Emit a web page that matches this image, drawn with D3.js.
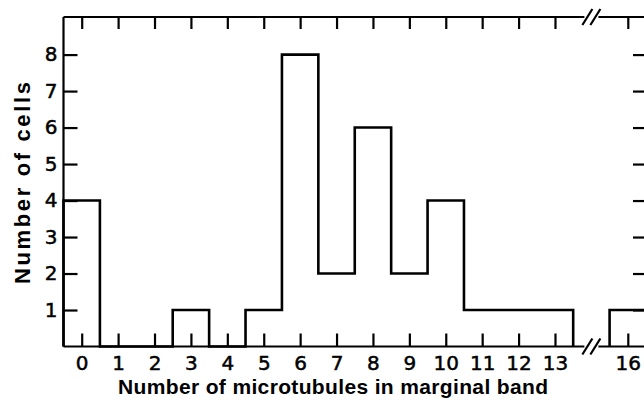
<!DOCTYPE html>
<html>
<head>
<meta charset="utf-8">
<script src="https://cdn.jsdelivr.net/npm/d3@7"></script>
<style>
  body { margin: 0; background: #fff; }
  svg { display: block; }
  .tick text { font-family: "DejaVu Sans", sans-serif; font-size: 20px; fill: #000; stroke: #000; stroke-width: 0.5px; }
  .title { font-family: "Liberation Sans", Arial, sans-serif; font-weight: bold; font-size: 21px; fill: #000; }
</style>
</head>
<body>
<div id="chart"></div>
<script>
// microtubule counts per cell (14 and 15 are skipped by the axis break)
const microtubules = [0, 1, 2, 3, 4, 5, 6, 7, 8, 9, 10, 11, 12, 13, 16]
const cellCounts   = [4, 0, 0, 1, 0, 1, 8, 2, 6, 2, 4, 1, 1, 1, 1]
const xTickLabels  = ["0", "1", "2", "3", "4", "5", "6", "7", "8", "9", "10", "11", "12", "13", "16"]
const yTickValues  = [1, 2, 3, 4, 5, 6, 7, 8]

const width = 644, height = 400
const margin = {top: 17, left: 63.5, bottom: 53.5}
const plotRight = 646   // right frame sits just outside the picture

const svg = d3.select('#chart')
  .append('svg')
  .attr('width', width)
  .attr('height', height)

// position on the axis: the break squeezes 14 and 15 into one slot
const slot = v => v <= 13 ? v : v - 1

const x = d3.scaleLinear()
  .domain([-0.5, 15.5])
  .range([margin.left, plotRight])

const y = d3.scaleLinear()
  .domain([0, 9.03])
  .range([height - margin.bottom, margin.top])

const xPos = microtubules.map(slot)
const breakAt = 14   // slot where the // marks go

// axes (ticks pointing inward, domain lines drawn by hand below)
svg.append('g')
  .attr('transform', `translate(0, ${y(0)})`)
  .call(d3.axisBottom(x).tickValues(xPos).tickSizeInner(-13).tickSizeOuter(0).tickPadding(9)
    .tickFormat((d, i) => xTickLabels[i]))
svg.append('g')
  .attr('transform', `translate(0, ${y.range()[1]})`)
  .call(d3.axisTop(x).tickValues(xPos).tickSizeInner(-12).tickSizeOuter(0).tickFormat(''))
svg.append('g')
  .attr('transform', `translate(${margin.left}, 0)`)
  .call(d3.axisLeft(y).tickValues(yTickValues).tickSizeInner(-14).tickSizeOuter(0).tickPadding(6)
    .tickFormat(d3.format('d')))
svg.append('g')
  .attr('transform', `translate(${plotRight}, 0)`)
  .call(d3.axisRight(y).tickValues(yTickValues).tickSizeInner(-13).tickSizeOuter(0).tickFormat(''))

svg.selectAll('.domain').remove()
svg.selectAll('.tick line').attr('stroke', '#000').attr('stroke-width', 2.2)

// frame with gaps at the break
const frame = svg.append('g').attr('stroke', '#000').attr('stroke-width', 2.2).attr('fill', 'none')
const gapL = x(breakAt) - 7, gapR = x(breakAt) + 7
;[y(0), y.range()[1]].forEach(yy => {
  frame.append('line').attr('x1', margin.left).attr('x2', gapL).attr('y1', yy).attr('y2', yy)
  frame.append('line').attr('x1', gapR).attr('x2', plotRight).attr('y1', yy).attr('y2', yy)
  // the two slashes
  ;[-4, 4].forEach(off => {
    frame.append('line')
      .attr('x1', x(breakAt) + off - 5).attr('y1', yy + 8)
      .attr('x2', x(breakAt) + off + 5).attr('y2', yy - 8)
  })
})
frame.append('line')
  .attr('x1', margin.left).attr('x2', margin.left)
  .attr('y1', y.range()[1]).attr('y2', y(0))

// histogram outline, one path per run of adjacent slots
const segments = []
xPos.forEach((p, i) => {
  const last = segments[segments.length - 1]
  if (last && xPos[last[last.length - 1]] === p - 1) last.push(i)
  else segments.push([i])
})

const line = d3.line().x(d => x(d[0])).y(d => y(d[1]))
segments.forEach(seg => {
  const pts = [[xPos[seg[0]] - 0.5, 0]]
  seg.forEach(i => {
    pts.push([xPos[i] - 0.5, cellCounts[i]])
    pts.push([xPos[i] + 0.5, cellCounts[i]])
  })
  pts.push([xPos[seg[seg.length - 1]] + 0.5, 0])
  svg.append('path')
    .attr('d', line(pts))
    .attr('fill', 'none')
    .attr('stroke', '#000')
    .attr('stroke-width', 2.6)
    .attr('stroke-linejoin', 'miter')
})

// titles
svg.append('text')
  .attr('class', 'title')
  .attr('x', 118).attr('y', 394)
  .attr('textLength', 430).attr('lengthAdjust', 'spacing')
  .text('Number of microtubules in marginal band')

svg.append('text')
  .attr('class', 'title')
  .attr('transform', 'translate(30, 284) rotate(-90)')
  .attr('textLength', 202).attr('lengthAdjust', 'spacing')
  .style('font-size', '22px')
  .text('Number of cells')
</script>
</body>
</html>
